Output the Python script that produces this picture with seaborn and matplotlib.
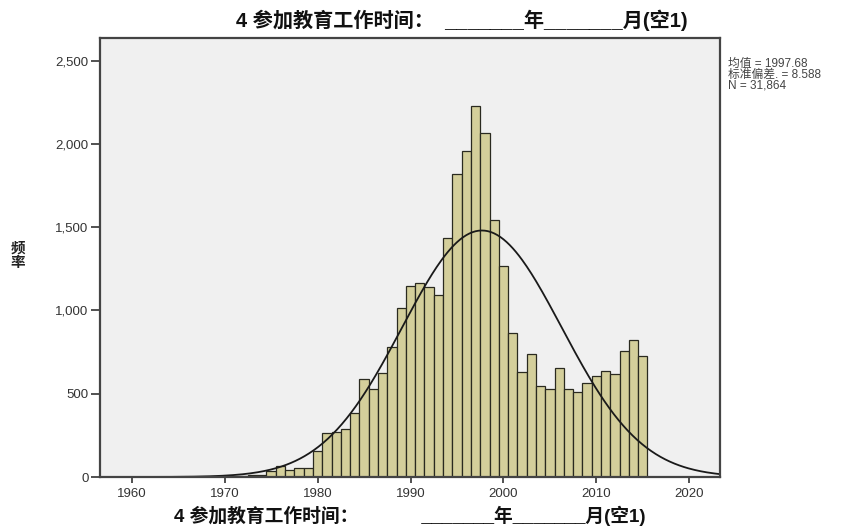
import numpy as np
import pandas as pd
import matplotlib
matplotlib.use("Agg")
import matplotlib.pyplot as plt
import seaborn as sns
from matplotlib.ticker import FuncFormatter

# ---- data ----
years = list(range(1970, 2016))
counts = [2, 4, 6, 10, 15,
          38, 65, 40, 55, 55,
          158, 267, 271, 291, 387,
          587, 527, 623, 780, 1012,
          1146, 1166, 1138, 1090, 1435,
          1821, 1956, 2230, 2064, 1541,
          1267, 867, 628, 737, 546,
          528, 655, 528, 510, 565,
          606, 635, 619, 757, 821,
          725]
stat_mean = 1997.68
stat_sd = 8.588
stat_n = 31864
x_ticks = [1960, 1970, 1980, 1990, 2000, 2010, 2020]
y_ticks = [0, 500, 1000, 1500, 2000, 2500]
title_text = "4 参加教育工作时间：" + " " * 2 + "_______年_______月(空1)"
xlabel_text = "4 参加教育工作时间：" + " " * 12 + "_______年_______月(空1)"
ylabel_text = "频\n率"
stats_text = "均值 = 1997.68\n标准偏差. = 8.588\nN = 31,864"

df = pd.DataFrame({"year": years, "count": counts})

sns.set_style("ticks")
plt.rcParams["font.family"] = ["Liberation Sans", "Noto Sans CJK SC", "DejaVu Sans"]

W, H = 866, 529
fig = plt.figure(figsize=(W / 100, H / 100), dpi=100)
fig.patch.set_facecolor("white")
left, right, top, bottom = 99.5, 719.5, 37.5, 477.0
ax = fig.add_axes([left / W, 1 - bottom / H, (right - left) / W, (bottom - top) / H])
ax.set_facecolor("#F0F0F0")

sns.histplot(data=df, x="year", weights="count", discrete=True, ax=ax,
             color="#D4CF9B", edgecolor="#2A2A20", linewidth=0.9, alpha=1.0)

# fitted normal curve from the reported statistics (bin width 1)
xs = np.linspace(1956.53, 2023.25, 400)
ys = stat_n * np.exp(-0.5 * ((xs - stat_mean) / stat_sd) ** 2) / (stat_sd * np.sqrt(2 * np.pi))
sns.lineplot(x=xs, y=ys, ax=ax, color="#1A1A1A", linewidth=1.3)

ax.set_xlim(1956.53, 2023.25)
ax.set_ylim(0, 2639)
ax.set_xticks(x_ticks)
ax.set_yticks(y_ticks)
ax.yaxis.set_major_formatter(FuncFormatter(lambda v, p: f"{int(v):,}"))
ax.tick_params(axis="x", direction="out", length=4.5, width=1.2, color="#333333",
               labelsize=9.5, labelcolor="#333333", pad=3.5)
ax.tick_params(axis="y", direction="out", length=6.5, width=1.2, color="#333333",
               labelsize=9.5, labelcolor="#333333", pad=1.5)
for s in ax.spines.values():
    s.set_visible(True)
    s.set_color("#444444")
    s.set_linewidth(1.6)

ax.set_xlabel(xlabel_text, fontsize=13.5, fontweight="bold", color="#111111", labelpad=4)
ax.set_ylabel("")
fig.text(18 / W, 1 - 256 / H, ylabel_text, ha="center", va="center",
         fontsize=10.5, fontweight="bold", color="#222222", linespacing=1.0)
fig.text(462 / W, 1 - 20 / H, title_text, ha="center", va="center",
         fontsize=14.5, fontweight="bold", color="#111111")
fig.text(728 / W, 1 - 58 / H, stats_text, ha="left", va="top",
         fontsize=8.5, color="#444444", linespacing=0.85)

fig.savefig("out.png", dpi=100)
